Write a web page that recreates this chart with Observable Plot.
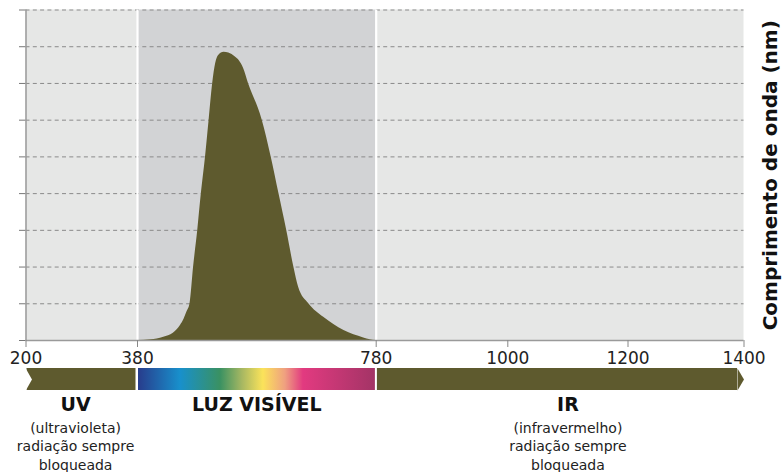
<!DOCTYPE html>
<html><head><meta charset="utf-8">
<script src="https://cdn.jsdelivr.net/npm/d3@7"></script>
<script src="https://cdn.jsdelivr.net/npm/@observablehq/plot@0.6"></script>
<style>
body{margin:0;background:#fff;font-family:"DejaVu Sans",sans-serif;}
#chart svg{display:block;overflow:visible}
</style></head><body><div id="chart"></div>
<script>
// ---- data ----
const xTicks = [200, 380, 780, 1000, 1200, 1400];
const regionNames = ["UV", "LUZ VISÍVEL", "IR"];
const regionStart = [200, 380, 780];
const regionEnd = [380, 780, 1400];
const regionLabelX = [280, 580, 1100];
const regionNotes = ["(ultravioleta)\nradiação sempre\nbloqueada", "", "(infravermelho)\nradiação sempre\nbloqueada"];
const gridLevels = [1, 2, 3, 4, 5, 6, 7, 8, 9];
const curveNm = [380, 402, 424, 440, 452, 458, 463, 468, 474, 481, 487, 494, 500, 506, 511, 516, 525, 533, 544, 550, 558, 566, 589, 604, 617, 630, 642, 650, 667, 692, 726, 759, 770, 780];
const curveValue = [0, 0.02, 0.09, 0.2, 0.41, 0.58, 0.78, 1.0, 2.0, 3.0, 4.0, 5.0, 6.0, 7.0, 7.54, 7.76, 7.85, 7.83, 7.72, 7.63, 7.4, 7.0, 6.0, 5.0, 4.0, 3.0, 2.0, 1.45, 1.0, 0.63, 0.27, 0.07, 0.02, 0];
const yLabel = "Comprimento de onda (nm)";
const spectrumOffsets = [0, 0.177, 0.346, 0.44, 0.527, 0.62, 0.696, 1];
const spectrumColors = ["#283c8c", "#1890cc", "#3a9162", "#a8b862", "#fbe35a", "#efa080", "#e23a80", "#a33466"];

// ---- tables ----
const regions = regionNames.map((name, i) => ({name, start: regionStart[i], end: regionEnd[i], lx: regionLabelX[i], note: regionNotes[i]}));
const curve = curveNm.map((nm, i) => ({nm, v: curveValue[i]}));

const FONT = '"DejaVu Sans", sans-serif';
const OLIVE = "#5e5a2e";
// the reference axis is not uniform: tick positions (px) along the axis
const axisWarp = d3.scaleLinear().domain(xTicks).range([25.5, 137, 375.7, 507.3, 627.5, 743.5]);
const xScale = {transform: axisWarp, domain: [25.5, 743.5], range: [25.5, 743.5]};
const common = {width: 783, marginLeft: 25.5, marginRight: 39.5, style: {fontFamily: FONT, background: "transparent", overflow: "visible"}};

const main = Plot.plot({
  ...common,
  height: 366, marginTop: 9.5, marginBottom: 26,
  x: xScale,
  y: {domain: [0, 9]},
  marks: [
    Plot.rect(regions.filter(d => d.name !== "LUZ VISÍVEL"), {x1: "start", x2: "end", fill: "#e6e7e6"}),
    Plot.rect(regions.filter(d => d.name === "LUZ VISÍVEL"), {x1: "start", x2: "end", fill: "#d2d3d5"}),
    Plot.ruleY(gridLevels, {stroke: "#8a8a8a", strokeDasharray: "4,3.3", strokeWidth: 1}),
    Plot.areaY(curve, {x: "nm", y: "v", fill: OLIVE, curve: "monotone-x"}),
    Plot.ruleX([380, 780], {stroke: "white", strokeWidth: 2.2}),
    Plot.axisY({ticks: [0, ...gridLevels], tickSize: 6.5, tickFormat: () => "", stroke: "#777", label: null}),
    Plot.ruleX([200], {stroke: "#9a9a9a", strokeWidth: 1.5}),
    Plot.ruleY([0], {stroke: "#9a9a9a", strokeWidth: 1.5}),
    Plot.axisX({ticks: xTicks.map(axisWarp), tickFormat: d => String(Math.round(axisWarp.invert(d))), tickSize: 7, tickPadding: 4, fontSize: 17, stroke: "#888", fill: "#222", label: null}),
    Plot.text([yLabel], {frameAnchor: "right", rotate: -90, dx: 27, textAnchor: "middle", lineAnchor: "middle", fontWeight: "bold", fontSize: 20, fill: "#111"})
  ]
});

const arrowTip = {draw(ctx) { ctx.moveTo(-6.5, -11); ctx.lineTo(0, 0); ctx.lineTo(-6.5, 11); ctx.closePath(); }};
const notch = {draw(ctx) { ctx.moveTo(-0.5, -11.5); ctx.lineTo(6, 0); ctx.lineTo(-0.5, 11.5); ctx.closePath(); }};

const band = Plot.plot({
  ...common,
  height: 24, marginTop: 2, marginBottom: 0,
  x: {...xScale, axis: null},
  y: {domain: [-1, 1], axis: null},
  marks: [
    () => {
      const defs = d3.create("svg:defs");
      const lg = defs.append("linearGradient").attr("id", "spectrum").attr("x1", 0).attr("x2", 1).attr("y1", 0).attr("y2", 0);
      spectrumOffsets.forEach((o, i) => lg.append("stop").attr("offset", o).attr("stop-color", spectrumColors[i]));
      return defs.node();
    },
    Plot.rect(regions.filter(d => d.name === "UV"), {x1: "start", x2: "end", fill: OLIVE, insetLeft: 1, insetRight: 1.5}),
    Plot.rect(regions.filter(d => d.name === "LUZ VISÍVEL"), {x1: "start", x2: "end", fill: "url(#spectrum)", insetLeft: 1, insetRight: 0.8}),
    Plot.rect(regions.filter(d => d.name === "IR"), {x1: "start", x2: "end", fill: OLIVE, insetLeft: 1.2, insetRight: 6.5}),
    Plot.dot(regions.filter(d => d.name === "IR"), {x: "end", symbol: arrowTip, fill: OLIVE, stroke: null}),
    Plot.dot(regions.filter(d => d.name === "UV"), {x: "start", symbol: notch, fill: "white", stroke: null})
  ]
});

const labels = Plot.plot({
  ...common,
  height: 82, marginTop: 0, marginBottom: 0,
  x: {...xScale, axis: null},
  marks: [
    Plot.text(regions, {x: "lx", text: "name", frameAnchor: "top", dy: 14, lineAnchor: "middle", fontWeight: "bold", fontSize: 19, fill: "#111"}),
    Plot.text(regions, {x: "lx", text: "note", frameAnchor: "top", dy: 55, lineAnchor: "middle", fontSize: 14, lineHeight: 1.33, fill: "#222"})
  ]
});

document.getElementById("chart").append(main, band, labels);
</script>
</body></html>
